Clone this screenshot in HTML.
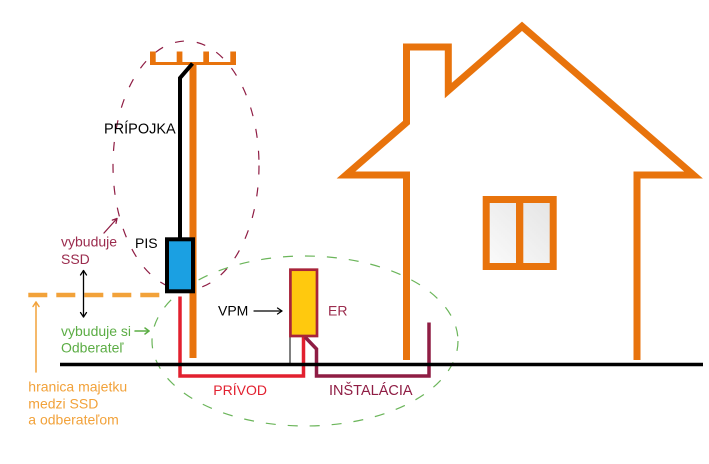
<!DOCTYPE html>
<html>
<head>
<meta charset="utf-8">
<style>
html,body{margin:0;padding:0;background:#fff;}
svg{display:block;}
text{font-family:"Liberation Sans",Arial,sans-serif;font-size:14px;}
</style>
</head>
<body>
<svg width="709" height="464" viewBox="0 0 709 464" xmlns="http://www.w3.org/2000/svg">
<defs>
<linearGradient id="wg" x1="1" y1="0" x2="0" y2="1">
<stop offset="0" stop-color="#e4e4e4"/>
<stop offset="1" stop-color="#fbfbfb"/>
</linearGradient>
</defs>
<rect width="709" height="464" fill="#fff"/>

<!-- dashed ellipses -->
<ellipse cx="186" cy="165.5" rx="73" ry="124.5" fill="none" stroke="#8F1D44" stroke-width="1.2" stroke-dasharray="9 13"/>
<ellipse cx="305" cy="341" rx="153" ry="85" fill="none" stroke="#6BB55A" stroke-width="1.2" stroke-dasharray="10 12"/>

<!-- house -->
<rect x="486.2" y="199.5" width="67" height="67" fill="url(#wg)" stroke="#E8730C" stroke-width="7"/>
<rect x="516" y="199" width="7.3" height="68" fill="#E8730C"/>
<path d="M406.5,360 L406.5,175 L346,175 L406.5,122.5 L406.5,47 L448.3,47 L448.3,90.5 L522,26.3 L693.5,175 L637,175 L637,360" fill="none" stroke="#E8730C" stroke-width="7" stroke-linejoin="miter" stroke-miterlimit="6"/>

<!-- pole -->
<rect x="189.5" y="62" width="7" height="296" fill="#E8730C"/>
<rect x="150" y="62" width="86" height="3" fill="#E8730C"/>
<rect x="150" y="51.5" width="5.7" height="12" fill="#E8730C"/>
<rect x="176.7" y="51.5" width="5.7" height="12" fill="#E8730C"/>
<rect x="203.3" y="51.5" width="5.7" height="12" fill="#E8730C"/>
<rect x="230.3" y="51.5" width="5.7" height="12" fill="#E8730C"/>

<!-- black wire -->
<path d="M192.5,63.5 L180,78 L180,238" fill="none" stroke="#000" stroke-width="4"/>

<!-- PIS box -->
<rect x="167" y="239.3" width="26" height="52" fill="#1BA0E2" stroke="#000" stroke-width="4"/>

<!-- red supply line -->
<path d="M180,296.5 L180,376 L303.5,376 L303.5,337" fill="none" stroke="#E2202F" stroke-width="3.5"/>

<!-- installation line -->
<path d="M305,337 L316.5,349 L316.5,376 L429,376 L429,322.5" fill="none" stroke="#8F1D44" stroke-width="3.5"/>

<!-- ER box -->
<line x1="290" y1="337" x2="290" y2="364" stroke="#555" stroke-width="1.5"/>
<rect x="290.4" y="269.7" width="26.6" height="66.3" fill="#FFC90E" stroke="#A8243A" stroke-width="2.7"/>

<!-- ground -->
<line x1="60" y1="364.5" x2="703" y2="364.5" stroke="#000" stroke-width="3.5"/>

<!-- orange dashed border -->
<line x1="28.3" y1="295" x2="160" y2="295" stroke="#F2A23A" stroke-width="4.5" stroke-dasharray="19 9"/>

<!-- arrows -->
<g fill="none" stroke-linecap="round" stroke-linejoin="round">
<line x1="104" y1="233" x2="117" y2="218.5" stroke="#8F1D44" stroke-width="1.3"/>
<polyline points="112.3,220.1 117,218.5 116,223.4" stroke="#8F1D44" stroke-width="1.3"/>

<line x1="83.5" y1="270.5" x2="83.5" y2="317" stroke="#000" stroke-width="1.3"/>
<polyline points="80.5,275 83.5,270.5 86.5,275" stroke="#000" stroke-width="1.3"/>
<polyline points="80.5,312.5 83.5,317 86.5,312.5" stroke="#000" stroke-width="1.3"/>

<line x1="135" y1="331" x2="149" y2="331" stroke="#5CAD45" stroke-width="1.5"/>
<polyline points="145,328 149,331 145,334" stroke="#5CAD45" stroke-width="1.5"/>

<line x1="254" y1="311" x2="282" y2="311" stroke="#000" stroke-width="1.2"/>
<polyline points="277.5,308 282,311 277.5,314" stroke="#000" stroke-width="1.2"/>

<line x1="36" y1="302" x2="36" y2="372" stroke="#F2A23A" stroke-width="1.5"/>
<polyline points="33,306.5 36,302 39,306.5" stroke="#F2A23A" stroke-width="1.5"/>
</g>

<!-- labels -->
<text x="104" y="133.5" fill="#000" style="font-size:14.5px">PRÍPOJKA</text>
<text x="135" y="248" fill="#000">PIS</text>
<text x="61" y="246.7" fill="#9B2C4E">vybuduje</text>
<text x="61" y="264" fill="#9B2C4E">SSD</text>
<text x="61" y="336" fill="#5CAD45">vybuduje si</text>
<text x="61" y="352.3" fill="#5CAD45">Odberateľ</text>
<text x="28.3" y="391.7" fill="#F2A23A">hranica majetku</text>
<text x="28.3" y="408.5" fill="#F2A23A">medzi SSD</text>
<text x="28.3" y="424.5" fill="#F2A23A">a odberateľom</text>
<text x="218" y="315.5" fill="#000">VPM</text>
<text x="328" y="315.5" fill="#9B2C4E">ER</text>
<text x="213.3" y="395" fill="#E2202F">PRÍVOD</text>
<text x="329" y="395" fill="#8F1D44" style="font-size:14.5px">INŠTALÁCIA</text>
</svg>
</body>
</html>
